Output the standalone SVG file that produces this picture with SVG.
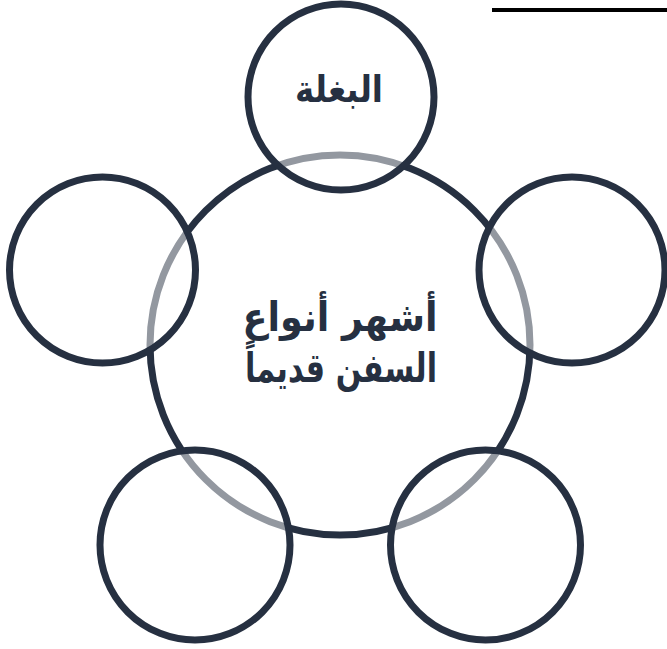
<svg xmlns="http://www.w3.org/2000/svg" width="667" height="649" viewBox="0 0 667 649">
<style>
.c{fill:none;stroke:#263041;stroke-width:7}
.o{fill:#ffffff;fill-opacity:0.5;stroke:#263041;stroke-width:7}
.t{font-family:"DejaVu Sans",sans-serif;font-weight:bold;fill:#263041;text-anchor:middle}
</style>
<rect width="667" height="649" fill="#ffffff"/>
<rect x="492" y="8" width="175" height="4" fill="#000000"/>
<g id="center">
<circle class="c" cx="340" cy="345" r="190"/>
<text class="t" font-size="36" transform="translate(340,331) scale(1,1.12)" x="0" y="0" textLength="195" lengthAdjust="spacingAndGlyphs">أشهر أنواع</text>
<text class="t" font-size="36" transform="translate(341,382) scale(1,1.12)" x="0" y="0" textLength="192" lengthAdjust="spacingAndGlyphs">السفن قديماً</text>
</g>
<g id="connectors"></g>
<g id="top">
<circle class="o" cx="341" cy="97" r="93"/>
<text class="t" font-size="32" transform="translate(339,102) scale(1,1.15)" x="0" y="0" textLength="88" lengthAdjust="spacingAndGlyphs">البغلة</text>
</g>
<g id="left"><circle class="o" cx="102.5" cy="270" r="93"/></g>
<g id="right"><circle class="o" cx="572" cy="270" r="93"/></g>
<g id="bottom-left"><circle class="o" cx="195" cy="545" r="95"/></g>
<g id="bottom-right"><circle class="o" cx="485.5" cy="545" r="95"/></g>
</svg>
